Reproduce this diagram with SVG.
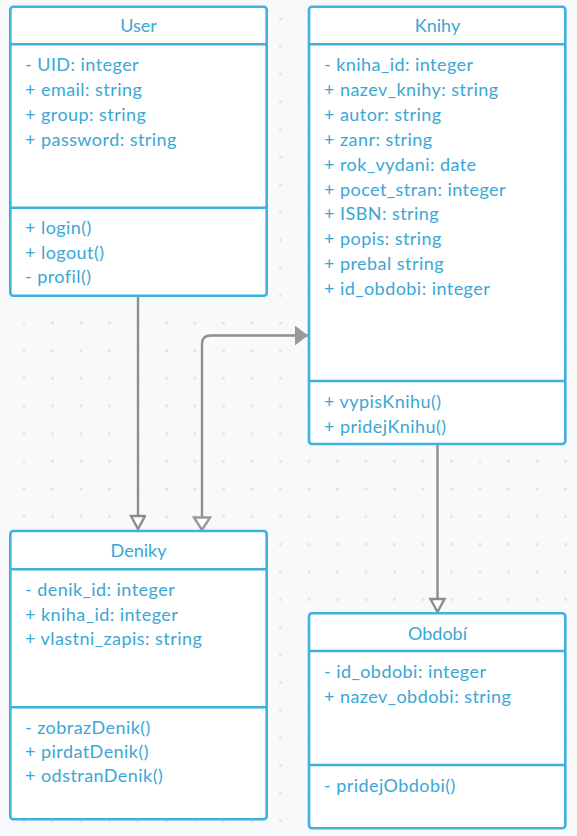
<svg xmlns="http://www.w3.org/2000/svg" width="577" height="836" viewBox="0 0 577 836">
<defs>
<pattern id="dots" patternUnits="userSpaceOnUse" x="9.75" y="5.18" width="28.5" height="27.65">
<circle cx="14.25" cy="13.82" r="1.6" fill="#e2e4e8"/>
</pattern>
<marker id="hollow" markerUnits="userSpaceOnUse" markerWidth="22" markerHeight="18" refX="17" refY="8" orient="auto" viewBox="0 0 22 18">
<path d="M4,1 L17,8 L4,15 Z" fill="#ffffff" stroke="#8c8c8c" stroke-width="2.4" stroke-linejoin="miter"/>
</marker>
<marker id="filled" markerUnits="userSpaceOnUse" markerWidth="16" markerHeight="22" refX="14" refY="10" orient="auto" viewBox="0 0 16 22">
<path d="M1,0 L14,10 L1,20 Z" fill="#999999"/>
</marker>
<style>
.box{fill:#ffffff;stroke:#3fb1de;stroke-width:2.6}
.sep{stroke:#3fb1de;stroke-width:2.4}
.t{font-family:Lato,"Open Sans","Liberation Sans",sans-serif;font-size:18px;letter-spacing:0.45px;fill:#3aa7d5}
.h{font-family:Lato,"Open Sans","Liberation Sans",sans-serif;font-size:18px;fill:#3aa7d5;text-anchor:middle}
.c{fill:none;stroke:#8f8f8f;stroke-width:2.4}
</style>
</defs>
<rect width="577" height="836" fill="#f8f9fb"/>
<rect width="577" height="836" fill="url(#dots)"/>

<g id="connectors">
<path class="c" d="M138,297 L138,529" marker-end="url(#hollow)"/>
<path class="c" d="M202,529 L202,344 Q202,335.5 210.5,335.5 L308,335.5" marker-end="url(#filled)"/>
<path class="c" d="M437.5,445 L437.5,612" marker-end="url(#hollow)"/>
<path d="M194,517.5 L202,530 L210,517.5 Z" fill="#ffffff" stroke="#999999" stroke-width="2.4"/>
</g>

<g id="user">
<rect class="box" x="10.3" y="6.7" width="256.4" height="289" rx="3"/>
<line class="sep" x1="10.3" y1="44.3" x2="266.7" y2="44.3"/>
<line class="sep" x1="10.3" y1="207.7" x2="266.7" y2="207.7"/>
<text class="h" x="138.5" y="32">User</text>
<text class="t" x="25" y="71">- UID: integer</text>
<text class="t" x="25" y="96">+ email: string</text>
<text class="t" x="25" y="121">+ group: string</text>
<text class="t" x="25" y="146">+ password: string</text>
<text class="t" x="25" y="234">+ login()</text>
<text class="t" x="25" y="258.5">+ logout()</text>
<text class="t" x="25" y="283">- profil()</text>
</g>

<g id="knihy">
<rect class="box" x="309" y="6.7" width="256.3" height="437.3" rx="3"/>
<line class="sep" x1="309" y1="44.3" x2="565.3" y2="44.3"/>
<line class="sep" x1="309" y1="381" x2="565.3" y2="381"/>
<text class="h" x="437.5" y="32">Knihy</text>
<text class="t" x="324" y="71">- kniha_id: integer</text>
<text class="t" x="324" y="96">+ nazev_knihy: string</text>
<text class="t" x="324" y="121">+ autor: string</text>
<text class="t" x="324" y="146">+ zanr: string</text>
<text class="t" x="324" y="170.5">+ rok_vydani: date</text>
<text class="t" x="324" y="195.5">+ pocet_stran: integer</text>
<text class="t" x="324" y="220">+ ISBN: string</text>
<text class="t" x="324" y="245">+ popis: string</text>
<text class="t" x="324" y="269.5">+ prebal string</text>
<text class="t" x="324" y="294.5">+ id_obdobi: integer</text>
<text class="t" x="324" y="408">+ vypisKnihu()</text>
<text class="t" x="324" y="432.5">+ pridejKnihu()</text>
</g>

<g id="deniky">
<rect class="box" x="10.3" y="531" width="256.4" height="288.3" rx="3"/>
<line class="sep" x1="10.3" y1="569.3" x2="266.7" y2="569.3"/>
<line class="sep" x1="10.3" y1="707.3" x2="266.7" y2="707.3"/>
<text class="h" x="138.5" y="557">Deniky</text>
<text class="t" x="25" y="595.5">- denik_id: integer</text>
<text class="t" x="25" y="620.5">+ kniha_id: integer</text>
<text class="t" x="25" y="645">+ vlastni_zapis: string</text>
<text class="t" x="25" y="733.5">- zobrazDenik()</text>
<text class="t" x="25" y="757.5">+ pirdatDenik()</text>
<text class="t" x="25" y="782">+ odstranDenik()</text>
</g>

<g id="obdobi">
<rect class="box" x="309" y="613.3" width="256.3" height="215" rx="3"/>
<line class="sep" x1="309" y1="651" x2="565.3" y2="651"/>
<line class="sep" x1="309" y1="765" x2="565.3" y2="765"/>
<text class="h" x="437.5" y="639.5">Období</text>
<text class="t" x="324" y="678">- id_obdobi: integer</text>
<text class="t" x="324" y="703">+ nazev_obdobi: string</text>
<text class="t" x="324" y="792">- pridejObdobi()</text>
</g>
</svg>
